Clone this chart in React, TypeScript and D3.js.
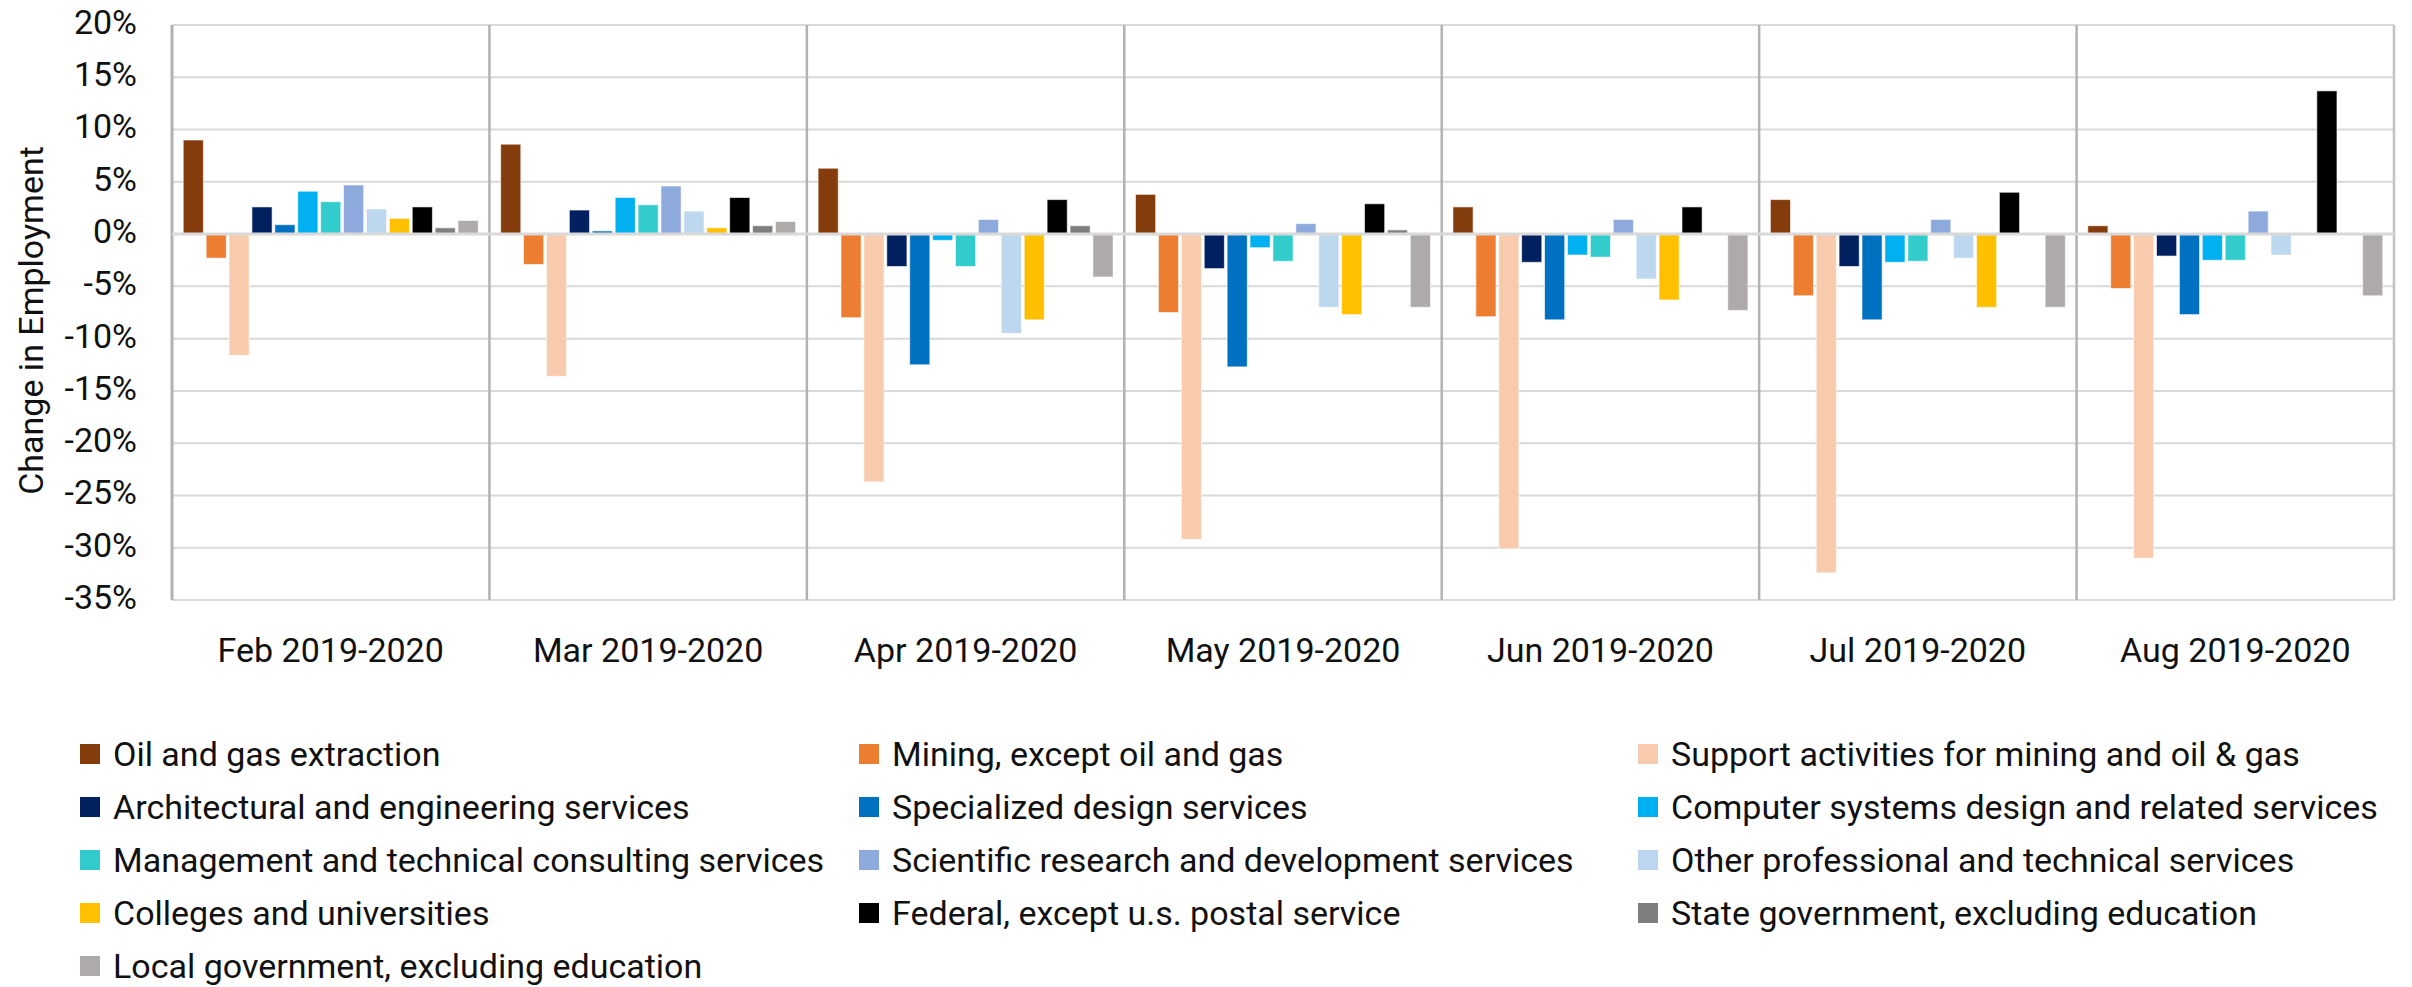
import React from "react";
import * as d3 from "d3";

const months = [
  "Feb 2019-2020",
  "Mar 2019-2020",
  "Apr 2019-2020",
  "May 2019-2020",
  "Jun 2019-2020",
  "Jul 2019-2020",
  "Aug 2019-2020",
];

const seriesNames = [
  "Oil and gas extraction",
  "Mining, except oil and gas",
  "Support activities for mining and oil & gas",
  "Architectural and engineering services",
  "Specialized design services",
  "Computer systems design and related services",
  "Management and technical consulting services",
  "Scientific research and development services",
  "Other professional and technical services",
  "Colleges and universities",
  "Federal, except u.s. postal service",
  "State government, excluding education",
  "Local government, excluding education",
];

const seriesColors = [
  "#843C0C",
  "#ED7D31",
  "#F8CBAD",
  "#002060",
  "#0070C0",
  "#00B0F0",
  "#33CCCC",
  "#8EA9DB",
  "#BDD7EE",
  "#FFC000",
  "#000000",
  "#7F7F7F",
  "#AEAAAA",
];

const oilGas = [9.0, 8.6, 6.3, 3.8, 2.6, 3.3, 0.8];
const miningExOil = [-2.3, -2.9, -8.0, -7.5, -7.9, -5.9, -5.2];
const supportMining = [-11.6, -13.6, -23.7, -29.2, -30.1, -32.4, -31.0];
const archEng = [2.6, 2.3, -3.1, -3.3, -2.7, -3.1, -2.1];
const specDesign = [0.9, 0.3, -12.5, -12.7, -8.2, -8.2, -7.7];
const computerSys = [4.1, 3.5, -0.6, -1.3, -2.0, -2.7, -2.5];
const mgmtConsult = [3.1, 2.8, -3.1, -2.6, -2.2, -2.6, -2.5];
const sciResearch = [4.7, 4.6, 1.4, 1.0, 1.4, 1.4, 2.2];
const otherProf = [2.4, 2.2, -9.5, -7.0, -4.3, -2.3, -2.0];
const colleges = [1.5, 0.6, -8.2, -7.7, -6.3, -7.0, 0];
const federal = [2.6, 3.5, 3.3, 2.9, 2.6, 4.0, 13.7];
const stateGov = [0.6, 0.8, 0.8, 0.4, 0, 0, 0];
const localGov = [1.3, 1.2, -4.1, -7.0, -7.3, -7.0, -5.9];

const seriesValues = [
  oilGas,
  miningExOil,
  supportMining,
  archEng,
  specDesign,
  computerSys,
  mgmtConsult,
  sciResearch,
  otherProf,
  colleges,
  federal,
  stateGov,
  localGov,
];

const yTicks = [20, 15, 10, 5, 0, -5, -10, -15, -20, -25, -30, -35];

const W = 2412;
const H = 987;
const FONT = "Roboto, 'Noto Sans', sans-serif";
const TEXT = "#111";

export default function App() {
  const left = 172;
  const right = 2394;
  const top = 25;
  const bottom = 600;

  const y = d3.scaleLinear().domain([-35, 20]).range([bottom, top]);
  const x0 = d3.scaleBand<string>().domain(months).range([left, right]).padding(0);
  const x1 = d3
    .scaleBand<string>()
    .domain(seriesNames)
    .range([0, x0.bandwidth()])
    .paddingInner(0.12)
    .paddingOuter(0.49);

  const legendCols = [80, 859, 1638];
  const legendRows = [754, 807, 860, 913, 966];

  return (
    <svg
      width={W}
      height={H}
      style={{ position: "absolute", left: 0, top: 0, display: "block", background: "#fff" }}
      fontFamily={FONT}
    >
      {/* horizontal gridlines */}
      {yTicks.map((t) => (
        <line
          key={"g" + t}
          x1={left}
          x2={right}
          y1={y(t)}
          y2={y(t)}
          stroke="#D9D9D9"
          strokeWidth={2}
        />
      ))}
      {/* vertical category dividers */}
      {months.map((m, i) => (
        <line
          key={"v" + m}
          x1={x0(m)!}
          x2={x0(m)!}
          y1={top}
          y2={bottom}
          stroke="#B4B1B1"
          strokeWidth={i === 0 ? 3 : 2.5}
        />
      ))}
      <line x1={right} x2={right} y1={top} y2={bottom} stroke="#C4C2C2" strokeWidth={2.5} />

      {/* bars */}
      {seriesNames.map((s, si) =>
        months.map((m, mi) => {
          const v = seriesValues[si][mi];
          if (v === 0) return null;
          const y0 = y(0);
          const yv = y(v);
          return (
            <rect
              key={s + m}
              x={x0(m)! + x1(s)!}
              y={Math.min(y0, yv)}
              width={x1.bandwidth()}
              height={Math.abs(yv - y0)}
              fill={seriesColors[si]}
              stroke="#ffffff"
              strokeOpacity={0.6}
              strokeWidth={1}
            />
          );
        })
      )}

      {/* zero line */}
      <line x1={left} x2={right} y1={y(0)} y2={y(0)} stroke="#D9D9D9" strokeWidth={3} />

      {/* y tick labels */}
      {yTicks.map((t) => (
        <text
          key={"t" + t}
          x={137}
          y={y(t) - 3}
          dy="0.35em"
          textAnchor="end"
          fontSize={34}
          fill={TEXT}
        >
          {t + "%"}
        </text>
      ))}

      {/* y axis title */}
      <text
        transform={`translate(43, ${(top + bottom) / 2 + 8}) rotate(-90)`}
        textAnchor="middle"
        fontSize={34}
        fill={TEXT}
      >
        Change in Employment
      </text>

      {/* x labels */}
      {months.map((m) => (
        <text
          key={"x" + m}
          x={x0(m)! + x0.bandwidth() / 2}
          y={662}
          textAnchor="middle"
          fontSize={34}
          fill={TEXT}
        >
          {m}
        </text>
      ))}

      {/* legend */}
      {seriesNames.map((s, i) => {
        const cx = legendCols[i % 3];
        const cy = legendRows[Math.floor(i / 3)];
        return (
          <g key={"l" + s}>
            <rect x={cx} y={cy - 10} width={20} height={20} fill={seriesColors[i]} />
            <text x={cx + 33} y={cy} dy="0.35em" fontSize={34} fill={TEXT}>
              {s}
            </text>
          </g>
        );
      })}
    </svg>
  );
}
